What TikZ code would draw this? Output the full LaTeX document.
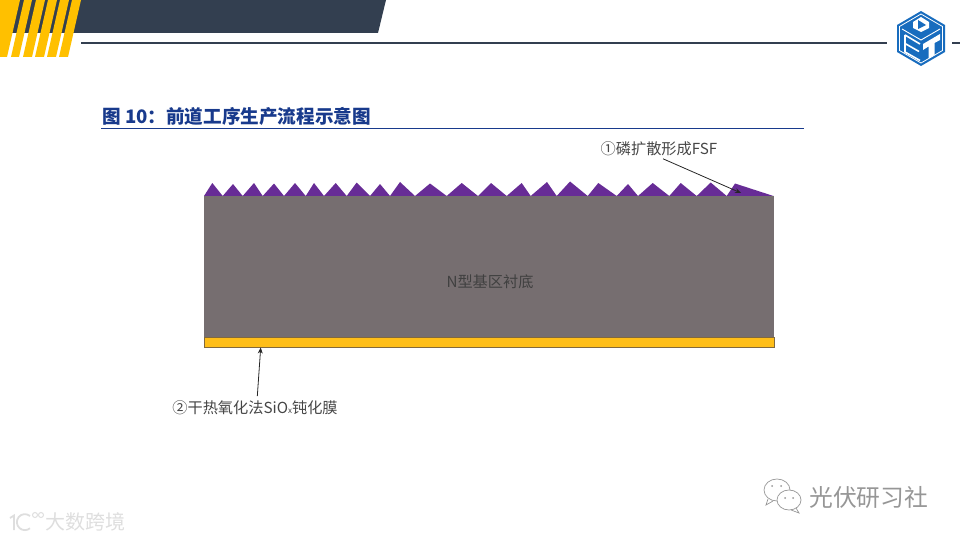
\documentclass[tikz,border=0pt]{standalone}
\usepackage{fontspec}
\setmainfont{Noto Sans CJK SC}
\usepackage{xcolor}
\usetikzlibrary{arrows.meta,positioning}
\definecolor{headerslate}{RGB}{51, 63, 80}
\definecolor{stripegold}{RGB}{255, 192, 0}
\definecolor{titlenavy}{RGB}{24, 58, 140}
\definecolor{logoblue}{RGB}{24, 108, 190}
\definecolor{basegray}{RGB}{118, 110, 112}
\definecolor{fsfpurple}{RGB}{103, 44, 150}
\definecolor{oxidegold}{RGB}{255, 190, 24}
\definecolor{oxideedge}{RGB}{130, 105, 60}
\definecolor{labeltext}{RGB}{70, 70, 70}
\definecolor{markgray}{RGB}{150, 150, 150}
\definecolor{markpale}{RGB}{222, 222, 222}
\tikzset{
  calloutlabel/.style={text=labeltext,font=\fontsize{15.2}{17}\selectfont,inner sep=1pt},
  leader/.style={-{Stealth[length=6pt,width=5pt]},draw=black!85,line width=0.8pt},
  goldstripe/.style={fill=stripegold,draw=none},
  markline/.style={draw=markgray,line width=0.7pt},
  paleline/.style={draw=markpale,line width=1.8pt}
}
\begin{document}
\begin{tikzpicture}[x=1pt,y=-1pt]
    \useasboundingbox (0,0) rectangle (960,540);
    % header band
    \fill[headerslate] (8,0) -- (386,0) -- (378,33) -- (8,33) -- cycle;
    \fill[goldstripe] (0,0) -- (20,0) -- (7,57) -- (0,57) -- cycle;
    \fill[goldstripe] (24,0) -- (32,0) -- (19,57) -- (11,57) -- cycle;
    \fill[goldstripe] (36,0) -- (45,0) -- (32,57) -- (23,57) -- cycle;
    \fill[goldstripe] (48,0) -- (57,0) -- (44,57) -- (35,57) -- cycle;
    \fill[goldstripe] (60,0) -- (69,0) -- (56,57) -- (47,57) -- cycle;
    \fill[goldstripe] (72,0) -- (81,0) -- (68,57) -- (59,57) -- cycle;
    \draw[headerslate,line width=1.8pt] (81,43) -- (887,43);
    \draw[headerslate,line width=1.8pt] (952,43) -- (960,43);
    % logo
    \fill[logoblue] (921,11) -- (945,25) -- (945,52) -- (921,66) -- (897,52) -- (897,25) -- cycle;
    \draw[white,line width=0.8pt] (921,14) -- (942.5,26.5) -- (942.5,50.5) -- (921,63) -- (899.5,50.5) -- (899.5,26.5) -- cycle;
    \fill[white] (921,17) -- (929,22) -- (929,28) -- (921,32) -- (913,28) -- (913,22) -- cycle;
    \fill[logoblue] (918,20) -- (926,25) -- (918,29) -- cycle;
    \draw[white,line width=0.9pt] (902,29) -- (921,40) -- (940,29);
    \draw[white,line width=1.6pt] (905,35) -- (905,52) -- (920,60.5);
    \draw[white,line width=1.6pt] (905,35) -- (920,44);
    \draw[white,line width=1.6pt] (905,43.5) -- (919,51.5);
    \fill[white] (923,44) -- (940,34) -- (940,40) -- (934.5,43) -- (934.5,55) -- (928.5,58.5) -- (928.5,46.5) -- (923,50) -- cycle;
    % title
    \node[text=titlenavy,font=\fontsize{18.6}{20}\selectfont\bfseries,anchor=west,inner sep=0pt] (figtitle) at (102,116) {图 10：前道工序生产流程示意图};
    \draw[titlenavy,line width=1.8pt] (101,128.5) -- (804,128.5);
    % wafer layers
    \fill[fsfpurple] (204,196) -- (212.3,183) -- (222.7,196) -- (233,184) -- (242.7,196) -- (254,183) -- (262.7,196)
      -- (274,183.5) -- (284,196) -- (295,183) -- (305.7,196) -- (314,183) -- (324,196) -- (335.7,183) -- (346.7,196)
      -- (356.7,182.5) -- (370,196) -- (380,184) -- (390,196) -- (400,182) -- (415,196) -- (430,183.5) -- (446.7,196)
      -- (461.7,183) -- (478,196) -- (491,183) -- (506.7,196) -- (521.7,183) -- (530.7,196) -- (547,182) -- (556.7,196)
      -- (570,181.5) -- (587.7,196) -- (598.3,183) -- (616.7,196) -- (628,184) -- (638,196) -- (652.7,183) -- (669.3,196)
      -- (680.7,183) -- (696.7,196) -- (710.7,182.5) -- (726.7,196) -- (735,183.5) -- (773.5,196) -- cycle;
    \node[fill=basegray,minimum width=570.5pt,minimum height=141pt,inner sep=0pt,anchor=north west] (nbase) at (203.5,196) {};
    \node[fill=oxidegold,draw=oxideedge,line width=0.6pt,minimum width=570pt,minimum height=10pt,inner sep=0pt,anchor=north west] (oxide) at (203.5,337) {};
    \node[text=black!75,font=\fontsize{15.2}{17}\selectfont] (nlabel) at (490,282) {N型基区衬底};
    % callouts
    \node[calloutlabel] (fsflabel) at (659,148.5) {①磷扩散形成FSF};
    \coordinate (fsftip) at (741,193);
    \draw[leader] (fsflabel.south) ++(4,2) -- (fsftip);
    \node[calloutlabel] (oxidelabel) at (255,407.5) {②干热氧化法SiO{\fontsize{8}{8}\selectfont x}钝化膜};
    \coordinate (oxidetip) at (260.7,347.5);
    \draw[leader] (oxidelabel.north) ++(2.3,-3) -- (oxidetip);
    % watermarks
    \draw[markline] (777,490) ellipse (13 and 11);
    \fill[white] (789,500) ellipse (12 and 10);
    \draw[markline] (789,500) ellipse (12 and 10);
    \draw[markline] (768,499) -- (766,505) -- (773,501);
    \draw[markline] (796,508) -- (799,513) -- (791,510);
    \fill[markgray] (772,486) circle (1) (781,486) circle (1) (785,498) circle (1) (793,498) circle (1);
    \node[text=markgray,font=\fontsize{23.8}{25}\selectfont,anchor=west,inner sep=0pt] (wechatname) at (809,497) {光伏研习社};
    \draw[paleline] (10,518) -- (14,515.5) -- (14,530);
    \draw[paleline] (30,516) arc (-50:-310:8);
    \draw[markpale,line width=1pt] (35,515) circle (2.5) (41,515) circle (2.5);
    \node[text=markpale,font=\fontsize{20}{22}\selectfont,anchor=west,inner sep=0pt] (crossname) at (45,522) {大数跨境};
\end{tikzpicture}
\end{document}
